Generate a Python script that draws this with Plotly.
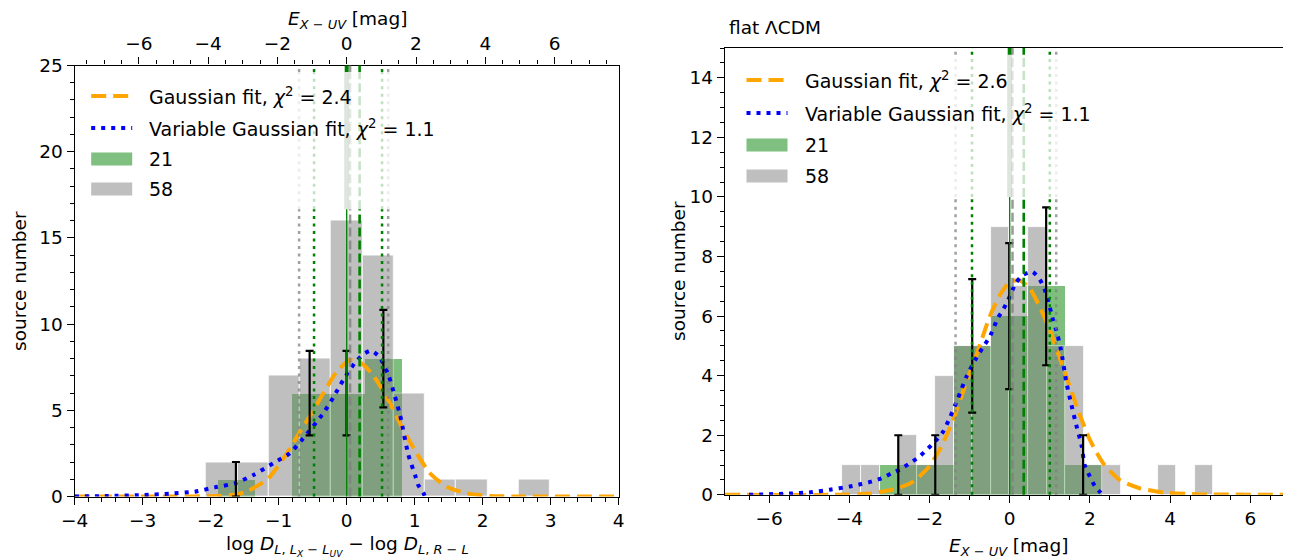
import plotly.graph_objects as go

# The page body has an 8px default margin, so the figure is laid out in screen pixels
# and shifted back by that offset.
SCREEN_W, SCREEN_H = 1291, 560
OFF = 8
W, H = SCREEN_W - OFF, SCREEN_H - OFF
FONT = "DejaVu Sans"
FS = 18.5
FS_LEG = 19

# ---------------- data: left panel (log D) ----------------
left_gray_edges = [-2.07, -1.61, -1.15, -0.69, -0.23, 0.23, 0.69, 1.15, 1.61, 2.07, 2.53, 2.99]
left_gray_counts = [2, 2, 7, 8, 16, 14, 6, 1, 1, 0, 1]
left_green_edges = [-1.90, -1.358, -0.816, -0.274, 0.268, 0.81]
left_green_counts = [1, 0, 6, 6, 8]
left_green_err = [1.0, 0.0, 2.45, 2.45, 2.83]

left_gauss_x = [-4.0, -2.5, -2.0, -1.62, -1.447, -1.153, -0.88, -0.687, -0.515, -0.344, -0.147,
                0.049, 0.22, 0.368, 0.515, 0.662, 0.832, 1.03, 1.225, 1.47, 1.76, 2.11, 2.5, 4.0]
left_gauss_y = [0, 0, 0.02, 0.12, 0.33, 1.05, 2.5, 3.76, 4.83, 5.99, 7.24,
                7.92, 7.72, 7.14, 6.27, 5.21, 3.86, 2.5, 1.35, 0.57, 0.19, 0.03, 0, 0]
left_vgauss_x = [-4.0, -3.5, -3.0, -2.6, -2.23, -1.94, -1.64, -1.37, -1.08, -0.84, -0.64, -0.344,
                 -0.197, -0.05, 0.122, 0.245, 0.357, 0.48, 0.613, 0.71, 0.784, 0.907, 1.005, 1.05, 1.13, 1.15]
left_vgauss_y = [0.0, 0.03, 0.08, 0.17, 0.28, 0.53, 0.77, 1.25, 1.93, 2.5, 3.37, 4.83,
                 5.75, 6.76, 7.76, 8.25, 8.46, 8.11, 7.05, 5.79, 4.73, 2.41, 1.25, 0.67, 0.19, 0.0]
left_vlines = [(-0.70, "gray_dot"), (-0.48, "green_dot"), (0.0, "green_solid"), (0.05, "gray_dash"),
               (0.19, "green_dash"), (0.52, "green_dot"), (0.61, "gray_dot")]

# ---------------- data: right panel (E_X-UV) ----------------
right_gray_edges = [-4.17, -3.7075, -3.245, -2.7825, -2.32, -1.8575, -1.395, -0.9325, -0.47, -0.0075,
                    0.455, 0.9175, 1.38, 1.8425, 2.305, 2.7675, 3.23, 3.6925, 4.155, 4.6175, 5.08]
right_gray_counts = [1, 1, 0, 2, 1, 4, 5, 5, 9, 7, 9, 5, 5, 1, 1, 0, 0, 1, 0, 1]
right_green_edges = [-3.24, -2.318, -1.396, -0.474, 0.448, 1.37, 2.292]
right_green_counts = [1, 1, 5, 6, 7, 1]
right_green_err = [1.0, 1.0, 2.24, 2.45, 2.65, 1.0]

right_gauss_x = [-7.1, -4.5, -3.49, -2.83, -2.41, -2.04, -1.75, -1.41, -1.12, -0.83, -0.5, -0.25, 0.0,
                 0.25, 0.5, 0.75, 1.0, 1.25, 1.5, 1.75, 2.0, 2.33, 2.74, 3.24, 3.82, 4.65, 7.0]
right_gauss_y = [0, 0.0, 0.04, 0.2, 0.44, 0.9, 1.5, 2.51, 3.63, 4.69, 5.98, 6.7, 7.15,
                 7.2, 6.93, 6.31, 5.53, 4.58, 3.63, 2.68, 1.84, 1.06, 0.5, 0.22, 0.08, 0.02, 0]
right_vgauss_x = [-6.5, -6.0, -5.5, -5.0, -4.49, -3.99, -3.7, -3.45, -3.2, -2.95, -2.74, -2.49, -2.28,
                  -2.08, -1.87, -1.66, -1.5, -1.29, -1.08, -0.83, -0.67, -0.5, -0.29, -0.17, -0.04,
                  0.15, 0.33, 0.566, 0.75, 0.87, 0.95, 1.08, 1.16, 1.28, 1.41, 1.54, 1.66, 1.79, 1.87,
                  2.0, 2.12, 2.26, 2.3]
right_vgauss_y = [0.0, 0.02, 0.04, 0.08, 0.17, 0.28, 0.36, 0.44, 0.55, 0.72, 0.85, 1.06, 1.25,
                  1.5, 1.78, 2.12, 2.57, 3.24, 3.96, 4.6, 4.95, 5.3, 5.95, 6.2, 6.54,
                  7.1, 7.38, 7.49, 7.23, 6.9, 6.56, 5.87, 5.53, 4.86, 3.8, 3.01, 2.34, 1.67, 1.0,
                  0.61, 0.3, 0.08, 0.0]
right_vlines = [(-1.35, "gray_dot"), (-0.94, "green_dot"), (0.0, "green_solid"), (0.07, "gray_dash"),
                (0.35, "green_dash"), (1.0, "green_dot"), (1.16, "gray_dot")]

legend_left = ["Gaussian fit, <i>χ</i><sup>2</sup> = 2.4", "Variable Gaussian fit, <i>χ</i><sup>2</sup> = 1.1", "21", "58"]
legend_right = ["Gaussian fit, <i>χ</i><sup>2</sup> = 2.6", "Variable Gaussian fit, <i>χ</i><sup>2</sup> = 1.1", "21", "58"]

# ---------------- geometry (screen pixels) ----------------
L = dict(x0=74.7, x1=618.7, y0=496.5, y1=65.5)   # left axes box
R = dict(x0=725.0, x1=1290.4, y0=494.8, y1=48.0)  # right axes box

def px(x):
    return (x - OFF) / W

def py(y):
    return 1 - (y - OFF) / H

def centers(edges):
    return [(a + b) / 2 for a, b in zip(edges[:-1], edges[1:])]

def widths(edges):
    return [b - a for a, b in zip(edges[:-1], edges[1:])]

fig = go.Figure()

def add_panel(xa, ya, g_edges, g_counts, g_err, k_edges, k_counts, gx, gy, vx, vy):
    fig.add_trace(go.Bar(x=centers(g_edges), y=g_counts, width=widths(g_edges),
                         marker=dict(color="green", line=dict(width=0)), opacity=0.5,
                         xaxis=xa, yaxis=ya, showlegend=False))
    fig.add_trace(go.Bar(x=centers(k_edges), y=k_counts, width=widths(k_edges),
                         marker=dict(color="gray", line=dict(color="white", width=0.8)), opacity=0.5,
                         xaxis=xa, yaxis=ya, showlegend=False))
    fig.add_trace(go.Scatter(x=gx, y=gy, mode="lines", xaxis=xa, yaxis=ya, showlegend=False,
                             line=dict(color="orange", width=4, dash="15px,7px", shape="spline", smoothing=0.6)))
    fig.add_trace(go.Scatter(x=vx, y=vy, mode="lines", xaxis=xa, yaxis=ya, showlegend=False,
                             line=dict(color="blue", width=4, dash="4px,6px", shape="spline", smoothing=0.6)))
    cy = [c if c > 0 else None for c in g_counts]
    fig.add_trace(go.Scatter(x=centers(g_edges), y=cy, mode="markers", xaxis=xa, yaxis=ya, showlegend=False,
                             marker=dict(size=1, opacity=0),
                             error_y=dict(type="data", array=g_err, color="black", thickness=2.2, width=4)))

add_panel("x", "y", left_green_edges, left_green_counts, left_green_err,
          left_gray_edges, left_gray_counts, left_gauss_x, left_gauss_y, left_vgauss_x, left_vgauss_y)
add_panel("x3", "y3", right_green_edges, right_green_counts, right_green_err,
          right_gray_edges, right_gray_counts, right_gauss_x, right_gauss_y, right_vgauss_x, right_vgauss_y)
# top axis carrier (no marks)
fig.add_trace(go.Scatter(x=[], y=[], xaxis="x2", yaxis="y", showlegend=False))

STY = {
    "gray_dot": dict(dark="rgba(128,128,128,0.75)", faint="rgba(128,128,128,0.15)", width=2.5, dash="3px,4.5px"),
    "green_dot": dict(dark="green", faint="rgba(0,128,0,0.25)", width=2.5, dash="3px,4.5px"),
    "green_dash": dict(dark="green", faint="rgba(0,128,0,0.22)", width=2.6, dash="9px,4px"),
    "gray_dash": dict(dark="rgba(128,128,128,0.8)", faint="rgba(128,128,128,0.2)", width=2.5, dash="9px,4px"),
    "green_solid": dict(dark="green", faint="rgba(120,150,120,0.25)", width=1.3, dash="solid"),
}

shapes = []
def vlines(xref, yref, lines):
    for xv, kind in lines:
        s = STY[kind]
        segs = [(0.0, 2 / 3, s["dark"], s["width"]), (2 / 3, 0.985, s["faint"], s["width"] if kind != "green_solid" else 5),
                (0.985, 1.0, s["dark"], s["width"] if kind != "green_solid" else 4)]
        for a, b, col, wd in segs:
            shapes.append(dict(type="line", xref=xref, yref=yref + " domain", x0=xv, x1=xv, y0=a, y1=b,
                               line=dict(color=col, width=wd, dash=s["dash"]), layer="above"))

vlines("x", "y", left_vlines)
vlines("x3", "y3", right_vlines)

annotations = []
def legend(box, labels, rows, dx=0):
    sx0 = box["x0"] + 16.5 + dx
    sx1 = sx0 + 41
    tx = sx1 + 15
    styles = [("line", "orange", "15px,7px"), ("line", "blue", "4px,6px"),
              ("rect", "#7fbf7f", None), ("rect", "#bfbfbf", None)]
    for (kind, col, dash), lab, ry in zip(styles, labels, rows):
        if kind == "line":
            shapes.append(dict(type="line", xref="paper", yref="paper", x0=px(sx0), x1=px(sx1),
                               y0=py(ry), y1=py(ry), line=dict(color=col, width=4, dash=dash)))
        else:
            shapes.append(dict(type="rect", xref="paper", yref="paper", x0=px(sx0), x1=px(sx1),
                               y0=py(ry + 6.5), y1=py(ry - 6.5), fillcolor=col, line=dict(width=0)))
        annotations.append(dict(text=lab, xref="paper", yref="paper", x=px(tx), y=py(ry), xanchor="left",
                                yanchor="middle", showarrow=False, font=dict(family=FONT, size=FS_LEG, color="black")))

legend(L, legend_left, [96, 128, 159, 189])
legend(R, legend_right, [80, 113, 145, 176], dx=5)

def ann(text, x, y, angle=0, xanchor="center"):
    annotations.append(dict(text=text, xref="paper", yref="paper", x=px(x), y=py(y), xanchor=xanchor,
                            yanchor="middle", showarrow=False, textangle=angle,
                            font=dict(family=FONT, size=FS, color="black")))

ann("source number", 19, 281, -90)
ann("source number", 678, 271, -90)
ann("log <i>D</i><sub><i>L</i>, <i>L</i><sub><i>X</i></sub> − <i>L</i><sub><i>UV</i></sub></sub> − log <i>D</i><sub><i>L</i>, <i>R</i> − <i>L</i></sub>", 347, 546)
ann("<i>E</i><sub><i>X</i> − <i>UV</i></sub> [mag]", 347, 19.5)
ann("<i>E</i><sub><i>X</i> − <i>UV</i></sub> [mag]", 1008, 547)
ann("flat ΛCDM", R["x0"] + 2, 27, xanchor="left")

tickfont = dict(family=FONT, size=FS, color="black")
common = dict(showgrid=False, zeroline=False, showline=True, linecolor="black", linewidth=1.3,
              ticks="outside", ticklen=7, tickwidth=1.3, tickcolor="black", tickfont=tickfont,
              automargin=False)

def minor(d):
    return dict(dtick=d, ticks="outside", ticklen=4, tickwidth=1, tickcolor="black", showgrid=False)

fig.update_layout(
    width=W, height=H, margin=dict(l=0, r=0, t=0, b=0, autoexpand=False),
    paper_bgcolor="white", plot_bgcolor="white", barmode="overlay", bargap=0,
    showlegend=False, font=dict(family=FONT, size=FS, color="black"),
    xaxis=dict(domain=[px(L["x0"]), px(L["x1"])], anchor="y", range=[-4, 4], tick0=0, dtick=1,
               minor=minor(0.2), mirror=False, **common),
    xaxis2=dict(overlaying="x", side="top", anchor="y", range=[-7.85, 7.85], tick0=0, dtick=2,
                minor=minor(0.5), **common),
    yaxis=dict(domain=[py(L["y0"]), py(L["y1"])], anchor="x", range=[0, 25], tick0=0, dtick=5,
               minor=minor(1), mirror=True, **common),
    xaxis3=dict(domain=[px(R["x0"]), min(1.0, px(R["x1"]))], anchor="y3", range=[-7.1, 7.0], tick0=0, dtick=2,
                minor=minor(0.5), mirror=True, **common),
    yaxis3=dict(domain=[py(R["y0"]), py(R["y1"])], anchor="x3", range=[0, 15], tick0=0, dtick=2,
                minor=minor(0.5), mirror=True, **common),
    shapes=shapes, annotations=annotations,
)

fig.write_html("out.html")
